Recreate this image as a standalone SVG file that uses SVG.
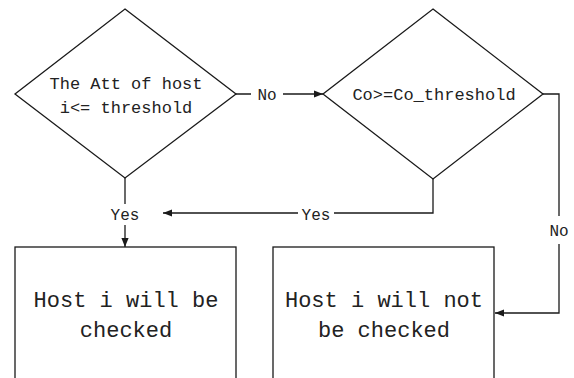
<svg xmlns="http://www.w3.org/2000/svg" width="574" height="378" viewBox="0 0 574 378">
  <style>
    .shape { fill: #fff; stroke: #1a1a1a; stroke-width: 1.3; }
    .wire { fill: none; stroke: #1a1a1a; stroke-width: 1.3; }
    .lbl { font-family: "Liberation Mono", "DejaVu Sans Mono", monospace; fill: #222; text-anchor: middle; }
    .dtext { font-size: 17px; }
    .btext { font-size: 22px; }
    .etext { font-size: 16px; }
    .bg { fill: #fff; stroke: none; }
  </style>
  <defs>
    <marker id="arrow" viewBox="0 0 10 10" refX="10" refY="5" markerWidth="9" markerHeight="9" markerUnits="userSpaceOnUse" orient="auto">
      <path d="M0,1 L10,5 L0,9 Z" fill="#1a1a1a"/>
    </marker>
  </defs>

  <rect width="574" height="378" fill="#fff"/>

  <g id="connectors">
    <!-- decision 1 -> decision 2 (No) -->
    <path class="wire" d="M236,94 H323" marker-end="url(#arrow)"/>
    <rect class="bg" x="251" y="84" width="32" height="20"/>
    <text class="lbl etext" x="267" y="100">No</text>

    <!-- decision 1 -> checked (Yes) -->
    <path class="wire" d="M125,178 V247" marker-end="url(#arrow)"/>
    <rect class="bg" x="108" y="204" width="34" height="21"/>
    <text class="lbl etext" x="125" y="220">Yes</text>

    <!-- decision 2 -> checked (Yes) -->
    <path class="wire" d="M433,179 V213 H163" marker-end="url(#arrow)"/>
    <rect class="bg" x="298" y="204" width="36" height="20"/>
    <text class="lbl etext" x="316" y="220">Yes</text>

    <!-- decision 2 -> not checked (No) -->
    <path class="wire" d="M543,94 H559 V313 H495" marker-end="url(#arrow)"/>
    <rect class="bg" x="548" y="216" width="22" height="28"/>
    <text class="lbl etext" x="559" y="236">No</text>
  </g>

  <g id="decision-att">
    <polygon class="shape" points="125,9 236,94 125,178 15,94"/>
    <text class="lbl dtext" x="126" y="89">The Att of host</text>
    <text class="lbl dtext" x="126" y="113">i&lt;= threshold</text>
  </g>

  <g id="decision-co">
    <polygon class="shape" points="433,9 543,94 433,179 323,94"/>
    <text class="lbl dtext" x="434" y="100">Co&gt;=Co_threshold</text>
  </g>

  <g id="host-checked">
    <rect class="shape" x="15" y="247" width="221" height="160"/>
    <text class="lbl btext" x="126" y="307">Host i will be</text>
    <text class="lbl btext" x="126" y="337">checked</text>
  </g>

  <g id="host-not-checked">
    <rect class="shape" x="273" y="247" width="221" height="160"/>
    <text class="lbl btext" x="384" y="307">Host i will not</text>
    <text class="lbl btext" x="384" y="337">be checked</text>
  </g>
</svg>
